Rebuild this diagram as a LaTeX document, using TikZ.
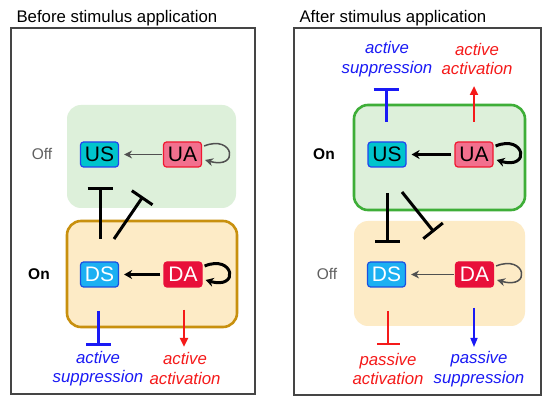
\documentclass[tikz,border=0pt]{standalone}
\usepackage{fontspec}
\setmainfont{Liberation Sans}
\usetikzlibrary{arrows.meta}
\definecolor{framegray}{HTML}{454545}
\definecolor{greenfill}{HTML}{DDF0DA}
\definecolor{orangefill}{HTML}{FDEBC6}
\definecolor{goldborder}{HTML}{C8900E}
\definecolor{greenborder}{HTML}{3EAE38}
\definecolor{uscol}{HTML}{00C4CC}
\definecolor{usborder}{HTML}{2244EE}
\definecolor{uacol}{HTML}{F2708E}
\definecolor{uaborder}{HTML}{F01830}
\definecolor{dscol}{HTML}{1CB0F2}
\definecolor{dsborder}{HTML}{1A50E0}
\definecolor{dacol}{HTML}{E8103A}
\definecolor{offgray}{HTML}{606060}
\definecolor{arrgray}{HTML}{505050}
\definecolor{myblue}{HTML}{1A1AF5}
\definecolor{myred}{HTML}{F51A1A}
\begin{document}
\begin{tikzpicture}[x=1pt,y=-1pt,
  frame/.style={draw=framegray,line width=1.6},
  gene/.style={draw,rounded corners=3,minimum width=38,minimum height=25,inner sep=0,line width=1.2,font=\fontsize{21}{24}\selectfont},
  state/.style={font=\fontsize{15.5}{18}\selectfont},
  effect/.style={align=center,font=\fontsize{16.8}{19.5}\selectfont\itshape},
  title/.style={anchor=base west,font=\fontsize{16.8}{18}\selectfont},
  thinarr/.style={draw=arrgray,line width=1.5,-{Stealth[length=8,width=8]}},
  thickarr/.style={draw=black,line width=3,-{Stealth[length=8,width=9]}},
  inhib/.style={line width=3,-{Bar[width=25,line width=3]}},
  inhibthin/.style={line width=1.5,-{Bar[width=23,line width=1.5]}},
  bigarr/.style={line width=2.6,-{Triangle[length=9,width=8]}},
  smallarr/.style={line width=1.5,-{Triangle[length=9,width=7]}}
]
\useasboundingbox (0,0) rectangle (550,406);
\fill[white] (0,0) rectangle (550,406);

% titles
\node[title] (t1) at (13,23) {Before stimulus application};
\node[title] (t2) at (296,23) {After stimulus application};

% frames
\draw[frame] (11,28) rectangle (255,394);
\draw[frame] (294,28) rectangle (541,395);

% left panel boxes
\fill[greenfill,rounded corners=14] (67,105) rectangle (236,208);
\draw[fill=orangefill,draw=goldborder,line width=2.6,rounded corners=14] (67,221) rectangle (237,327);
% right panel boxes
\draw[fill=greenfill,draw=greenborder,line width=2.6,rounded corners=14] (354,105) rectangle (525,210);
\fill[orangefill,rounded corners=14] (354,221) rectangle (525,326);

% state labels
\node[state,text=offgray] (offl) at (42,154) {Off};
\node[state,font=\fontsize{15.5}{18}\selectfont\bfseries] (onl) at (39,274) {On};
\node[state,font=\fontsize{15.5}{18}\selectfont\bfseries] (onr) at (324,154) {On};
\node[state,text=offgray] (offr) at (327,274) {Off};

% genes left
\node[gene,fill=uscol,draw=usborder] (USl) at (99.5,154.5) {US};
\node[gene,fill=uacol,draw=uaborder] (UAl) at (182.5,154.5) {UA};
\node[gene,fill=dscol,draw=dsborder,text=white] (DSl) at (99.5,274.5) {DS};
\node[gene,fill=dacol,draw=dacol,text=white] (DAl) at (183,274.5) {DA};
% genes right
\node[gene,fill=uscol,draw=usborder] (USr) at (387,154.5) {US};
\node[gene,fill=uacol,draw=uaborder] (UAr) at (474,154.5) {UA};
\node[gene,fill=dscol,draw=dsborder,text=white] (DSr) at (386.5,274.5) {DS};
\node[gene,fill=dacol,draw=dacol,text=white] (DAr) at (474.5,274.5) {DA};

% horizontal arrows
\draw[thinarr,shorten <=1,shorten >=5] (UAl) -- (USl);
\draw[thickarr,shorten <=3,shorten >=5] (DAl) -- (DSl);
\draw[thickarr,shorten <=3,shorten >=5] (UAr) -- (USr);
\draw[thinarr,shorten <=1,shorten >=5] (DAr) -- (DSr);

% self loops
\draw[thinarr] ([xshift=2]UAl.east |- 0,146) .. controls (234,134) and (240,170) .. ([xshift=3]UAl.east |- 0,160);
\draw[thickarr] ([xshift=2]DAl.east |- 0,266) .. controls (234,254) and (240,290) .. ([xshift=3]DAl.east |- 0,280);
\draw[thickarr] ([xshift=2]UAr.east |- 0,146) .. controls (525,134) and (531,170) .. ([xshift=3]UAr.east |- 0,160);
\draw[thinarr] ([xshift=2]DAr.east |- 0,266) .. controls (526,254) and (532,290) .. ([xshift=3]DAr.east |- 0,280);

% inhibitions between modules
\coordinate (la) at (100,239); \coordinate (lb) at (100,187);
\coordinate (lc) at (114,239); \coordinate (ld) at (143,196.5);
\draw[inhib] (la) -- (lb);
\draw[inhib] (lc) -- (ld);
\coordinate (ra) at (387,193); \coordinate (rb) at (387,243);
\coordinate (rc) at (402,192); \coordinate (rd) at (434,232);
\draw[inhib] (ra) -- (rb);
\draw[inhib] (rc) -- (rd);

% outputs left
\coordinate (o1a) at (98,311); \coordinate (o1b) at (98,346);
\coordinate (o2a) at (184,310); \coordinate (o2b) at (184,347);
\draw[inhib,draw=myblue] (o1a) -- (o1b);
\draw[bigarr,draw=myred,fill=myred] (o2a) -- (o2b);
\node[effect,text=myblue] (e1) at (98,368.5) {active\\suppression};
\node[effect,text=myred] (e2) at (185,368.5) {active\\activation};

% outputs right top
\coordinate (o3a) at (386,122); \coordinate (o3b) at (386,88);
\coordinate (o4a) at (474,122); \coordinate (o4b) at (474,86);
\draw[inhib,draw=myblue] (o3a) -- (o3b);
\draw[bigarr,draw=myred,fill=myred] (o4a) -- (o4b);
\node[effect,text=myblue] (e3) at (387,59) {active\\suppression};
\node[effect,text=myred] (e4) at (477,59) {active\\activation};

% outputs right bottom
\coordinate (o5a) at (388,311); \coordinate (o5b) at (388,345);
\coordinate (o6a) at (474,308); \coordinate (o6b) at (474,347);
\draw[inhibthin,draw=myred] (o5a) -- (o5b);
\draw[smallarr,draw=myblue,fill=myblue] (o6a) -- (o6b);
\node[effect,text=myred] (e5) at (388,369) {passive\\activation};
\node[effect,text=myblue] (e6) at (479,369) {passive\\suppression};
\end{tikzpicture}
\end{document}
